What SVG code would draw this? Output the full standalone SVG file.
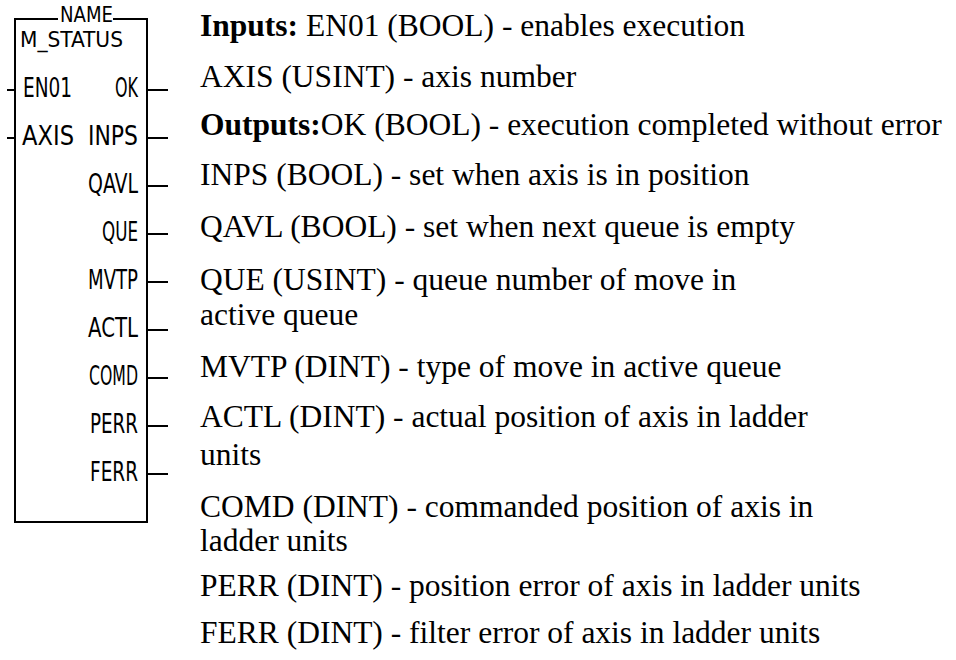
<svg xmlns="http://www.w3.org/2000/svg" width="956" height="660" viewBox="0 0 956 660">
<style>
.blk{fill:none;stroke:#000;stroke-width:2}
.pin{stroke:#000;stroke-width:2}
.lbl{font-family:"Liberation Sans Narrow","DejaVu Sans Condensed","Liberation Sans",sans-serif;font-size:26px;fill:#000}
.ttl{font-family:"Liberation Sans Narrow","DejaVu Sans Condensed","Liberation Sans",sans-serif;font-size:21px;fill:#000}
.desc{font-family:"Liberation Serif","Times New Roman",serif;font-size:31.5px;fill:#000}
.b{font-weight:bold}
</style>
<rect width="956" height="660" fill="#fff"/>
<g id="block">
<path class="blk" d="M58,19 H15 V522 H147 V19 H113"/>
<text class="ttl" x="60" y="22" textLength="53" lengthAdjust="spacingAndGlyphs">NAME</text>
<text class="ttl" x="20" y="47" textLength="103" lengthAdjust="spacingAndGlyphs">M_STATUS</text>
</g>
<g id="connectors">
<line class="pin" x1="7" y1="90" x2="15" y2="90"/>
<line class="pin" x1="7" y1="138" x2="15" y2="138"/>
<line class="pin" x1="147" y1="90" x2="168" y2="90"/>
<line class="pin" x1="147" y1="138" x2="168" y2="138"/>
<line class="pin" x1="147" y1="186" x2="168" y2="186"/>
<line class="pin" x1="147" y1="234" x2="168" y2="234"/>
<line class="pin" x1="147" y1="282" x2="168" y2="282"/>
<line class="pin" x1="147" y1="330" x2="168" y2="330"/>
<line class="pin" x1="147" y1="378" x2="168" y2="378"/>
<line class="pin" x1="147" y1="426" x2="168" y2="426"/>
<line class="pin" x1="147" y1="474" x2="168" y2="474"/>
</g>
<g id="pins">
<text class="lbl" x="23" y="97" textLength="49" lengthAdjust="spacingAndGlyphs">EN01</text>
<text class="lbl" x="22" y="145" textLength="52" lengthAdjust="spacingAndGlyphs">AXIS</text>
<text class="lbl" x="115" y="97" textLength="23" lengthAdjust="spacingAndGlyphs">OK</text>
<text class="lbl" x="88" y="145" textLength="50" lengthAdjust="spacingAndGlyphs">INPS</text>
<text class="lbl" x="88" y="193" textLength="50" lengthAdjust="spacingAndGlyphs">QAVL</text>
<text class="lbl" x="102" y="241" textLength="36" lengthAdjust="spacingAndGlyphs">QUE</text>
<text class="lbl" x="88" y="289" textLength="50" lengthAdjust="spacingAndGlyphs">MVTP</text>
<text class="lbl" x="88" y="337" textLength="50" lengthAdjust="spacingAndGlyphs">ACTL</text>
<text class="lbl" x="89" y="385" textLength="49" lengthAdjust="spacingAndGlyphs">COMD</text>
<text class="lbl" x="90" y="433" textLength="48" lengthAdjust="spacingAndGlyphs">PERR</text>
<text class="lbl" x="90" y="481" textLength="48" lengthAdjust="spacingAndGlyphs">FERR</text>
</g>
<g id="description">
<text class="desc" x="200" y="36"><tspan class="b">Inputs:</tspan> EN01 (BOOL) - enables execution</text>
<text class="desc" x="200" y="87">AXIS (USINT) - axis number</text>
<text class="desc" x="200" y="135"><tspan class="b">Outputs:</tspan>OK (BOOL) - execution completed without error</text>
<text class="desc" x="200" y="185">INPS (BOOL) - set when axis is in position</text>
<text class="desc" x="200" y="237">QAVL (BOOL) - set when next queue is empty</text>
<text class="desc" x="200" y="290">QUE (USINT) - queue number of move in</text>
<text class="desc" x="200" y="325">active queue</text>
<text class="desc" x="200" y="377">MVTP (DINT) - type of move in active queue</text>
<text class="desc" x="200" y="427">ACTL (DINT) - actual position of axis in ladder</text>
<text class="desc" x="200" y="465">units</text>
<text class="desc" x="200" y="517">COMD (DINT) - commanded position of axis in</text>
<text class="desc" x="200" y="551">ladder units</text>
<text class="desc" x="200" y="596">PERR (DINT) - position error of axis in ladder units</text>
<text class="desc" x="200" y="643">FERR (DINT) - filter error of axis in ladder units</text>
</g>
</svg>
